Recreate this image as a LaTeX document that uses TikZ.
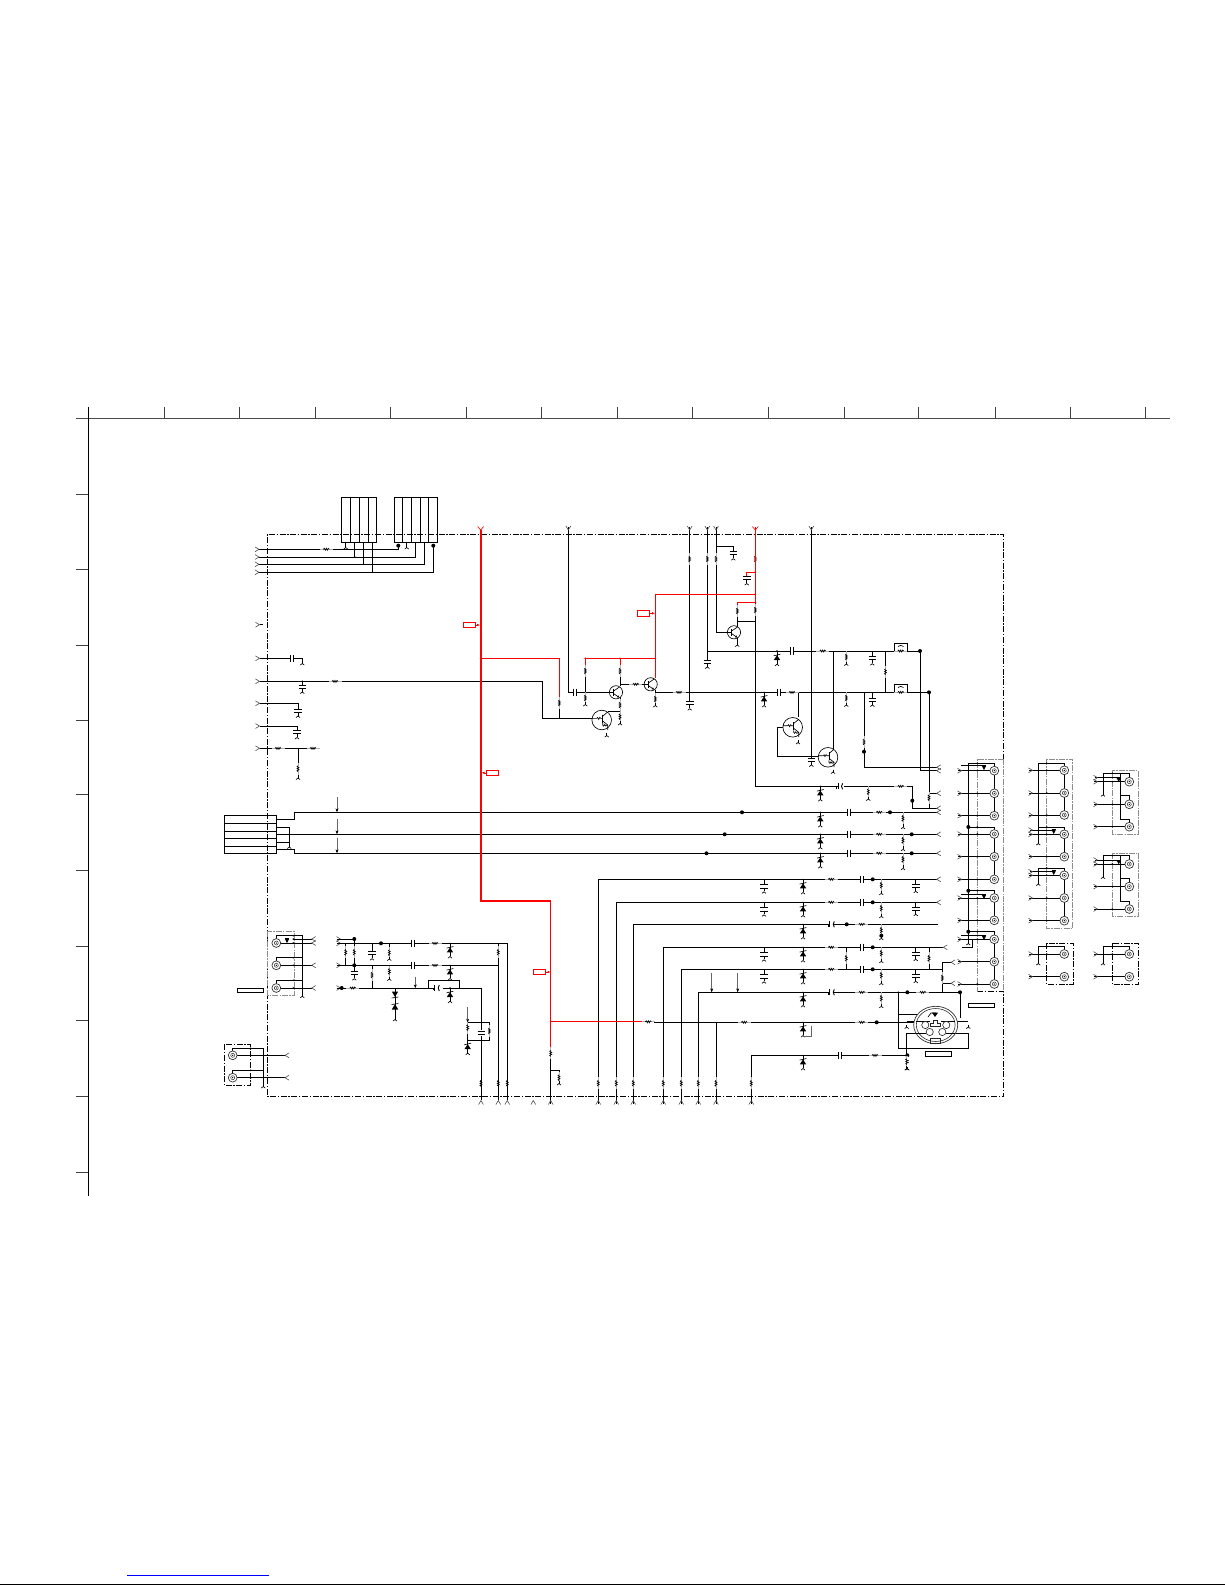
\documentclass[tikz,border=0pt]{standalone}
\usepackage{tikz}
\usetikzlibrary{arrows.meta}
\usetikzlibrary{calc}
\tikzset{
  wire/.style={black, line width=0.9pt},
  rednet/.style={red, line width=1pt},
  redbus/.style={red, line width=2.2pt},
  part/.style={black, line width=0.65pt},
  halo/.style={black!30, line width=1pt},
  framedash/.style={black, line width=0.7pt, dash pattern=on 6pt off 1.6pt on 1.4pt off 1.6pt},
  greydash/.style={black!45, line width=0.7pt, dash pattern=on 6pt off 1.2pt on 1.4pt off 1.2pt},
  lblbox/.style={draw=black, line width=0.8pt, fill=white, inner sep=0pt, minimum width=26pt, minimum height=4.2pt},
  redbox/.style={draw=red, line width=0.8pt, fill=white, inner sep=0pt, minimum width=12.4pt, minimum height=5.4pt},
  pics/hres/.style={code={
    \fill[white] (-5.5,-1.3) rectangle (5.5,1.3);
    \draw[halo] (-6.5,0) -- (6.5,0);
    \draw[part] (-3,0) -- (-2,-1) -- (-1,1) -- (0,-1) -- (1,1) -- (2,-1) -- (3,0);
  }},
  pics/vres/.style={code={
    \fill[white] (-1.3,-5) rectangle (1.3,5);
    \draw[halo] (0,-6) -- (0,6);
    \draw[part] (0,-3) -- (-1,-2) -- (1,-1) -- (-1,0) -- (1,1) -- (-1,2) -- (0,3);
  }},
  pics/hcap/.style={code={
    \fill[white] (-1.4,-1) rectangle (1.4,1);
    \draw[wire] (-1.5,-3.6) -- (-1.5,3.6) (1.5,-3.6) -- (1.5,3.6);
  }},
  pics/elcap/.style={code={
    \fill[white] (-2,-1) rectangle (2,1);
    \draw[wire] (-1.8,-3) -- (-1.8,3);
    \draw[wire] (2.6,-3) .. controls (1.2,-1.5) and (1.2,1.5) .. (2.6,3);
    \draw[part] (-3.6,1) -- (-3.6,2.2);
  }},
  pics/gnd/.style={code={
    \draw[part] (0,-2) -- (0,0.6);
    \draw[part] (-2,2) -- (0,0.6) -- (2,2);
  }},
  pics/vcap/.style={code={
    \draw[wire] (-3.8,0) -- (3.8,0) (-3.8,3.2) -- (3.8,3.2);
    \draw[wire] (0,3.2) -- (0,6.5);
    \draw[part] (-2,8.5) -- (0,7) -- (2,8.5);
  }},
  pics/zen/.style={code={
    \draw[wire] (0,0) -- (0,13);
    \fill (0,4.2) -- (-3.2,9) -- (3.2,9) -- cycle;
    \draw[part] (-3.4,4.8) -- (3.4,3.2);
    \draw[part] (-2,14.8) -- (0,13.2) -- (2,14.8);
    \fill (0,0) circle (0.8);
  }},
  pics/porta/.style={code={
    \draw[black!70, line width=0.6pt] (-4,-2.4) -- (0,0) -- (-4,2.4);
  }},
  pics/jack/.style={code={
    \draw[black!80, line width=0.7pt, fill=white] (0,0) circle (4.4);
    \draw[black!80, line width=0.5pt] (0,0) circle (2);
    \fill (0,0) circle (0.7);
  }},
  pics/npn/.style={code={
    \draw[part, fill=white] (0,0) circle (6.6);
    \draw[wire] (-2.2,-3.6) -- (-2.2,3.6);
    \draw[part] (-6.6,0) -- (-2.2,0);
    \draw[part] (-2.2,-1.4) -- (3.6,-5.4);
    \draw[part, -{Latex[length=2.4pt,width=2.4pt]}] (-2.2,1.4) -- (3.6,5.4);
  }},
  pics/fetq/.style={code={
    \draw[part, fill=white] (0,0) circle (9.8);
    \draw[part] (-9.8,-1.6) -- (-5,-1.6) -- (-4,-2.6) -- (-3,-0.6) -- (-2,-2.6) -- (-1,-1.6) -- (1,-1.6);
    \draw[wire] (1,-5.5) -- (1,3);
    \draw[part] (1,-3.8) -- (6,-8);
    \draw[part] (1,1) -- (6,5) -- (6,9.8);
    \draw[part] (1,3) -- (1,5) -- (2,6) -- (3,4.5) -- (4,6) -- (6,5);
  }},
  pics/tridown/.style={code={
    \fill (-2,-1.8) -- (2,-1.8) -- (0,2) -- cycle;
    \draw[part] (-2.2,-2.2) -- (2.2,-2.2);
  }},
}
\begin{document}
\begin{tikzpicture}[x=1pt,y=-1pt]
\useasboundingbox (0,0) rectangle (1225,1585);
% sheet rulers and page foot
\draw[black!70, line width=0.9pt] (76,418.3) -- (1169.5,418.3);
\draw[black, line width=0.9pt] (88.3,407) -- (88.3,1196);
\foreach \x in {164,239,315,390.5,466,541.7,617.5,692.5,768,844,918.8,995,1070.3,1145.3} {
    \draw[black!75, line width=0.8pt] (\x,407) -- (\x,418.3);
}
\foreach \y in {494,569.8,645.3,720.8,794.6,870,946,1020.8,1096.6,1172} {
    \draw[black!75, line width=0.8pt] (76,\y) -- (88.3,\y);
}
\draw[blue, line width=1pt] (127,1575.3) -- (269,1575.3);
\draw[black, line width=1.2pt] (0,1584.2) -- (1225,1584.2);
% board outline
\draw[framedash] (977.3,991.7) -- (1003.7,991.7) -- (1003.7,1096.3) -- (267.3,1096.3) -- (267.3,534.3) -- (1003.7,534.3) -- (1003.7,759);
\draw[greydash] (1003.7,759) -- (977.3,759) -- (977.3,991.7);
\draw[greydash] (1003.7,759) -- (1003.7,991.7);
% top connectors
\draw[wire] (341.3,497.3) rectangle (376.7,542.3);
\foreach \x in {350.3,359.3,368.3} {\draw[wire] (\x,497.3) -- (\x,542.3);}
\draw[wire] (394.3,497.3) rectangle (437.7,542.3);
\foreach \x in {402.3,411.3,420,428.3} {\draw[wire] (\x,497.3) -- (\x,542.3);}
\draw[wire] (259,549.3) -- (398.3,549.3) -- (398.3,545.7);
\draw[wire] (259,557) -- (415.3,557) -- (415.3,542.3);
\draw[wire] (259,564.3) -- (424.3,564.3) -- (424.3,542.3);
\draw[wire] (259,572.3) -- (433.3,572.3) -- (433.3,545.7);
\draw[wire] (354.7,542.3) -- (354.7,557) (363.7,542.3) -- (363.7,564.3) (372.3,542.3) -- (372.3,572.3);
\draw[part] (345.7,542.3) -- (345.7,545) (406.7,542.3) -- (406.7,545);
\pic at (345.7,547) {gnd};
\pic at (406.7,547) {gnd};
\fill (398.3,545.7) circle (2) (433.3,545.7) circle (2);
\pic at (326.3,549.3) {hres};
\foreach \y in {549.3,557,564.3,572.3} {\pic at (259,\y) {porta};}
\foreach \x/\y in {354.7/557,363.7/564.3,372.3/572.3} {\fill (\x,\y) circle (0.9);}
% left signal entries
\pic at (259.5,624.7) {porta};
\draw[wire] (259.5,624.7) -- (263,624.7);
\draw[wire] (259.5,658.3) -- (290.8,658.3) (293.8,658.3) -- (302.3,658.3) -- (302.3,661);
\pic at (292.3,658.3) {hcap};
\pic at (302.3,663) {gnd};
\draw[wire] (259.5,681.3) -- (542.3,681.3) -- (542.3,718.3) -- (592,718.3);
\pic at (335,681.3) {hres};
\draw[wire] (302.3,681.3) -- (302.3,685);
\pic at (302.3,685) {vcap};
\fill (302.3,681.3) circle (1);
\draw[wire] (259.5,703.3) -- (298,703.3) -- (298,709);
\pic at (298,709) {vcap};
\draw[wire] (259.5,726) -- (297,726) -- (297,730.5);
\pic at (297,730.5) {vcap};
\draw[wire] (259.5,748.3) -- (319.3,748.3);
\draw[wire] (298,748.3) -- (298,776);
\pic at (278,748.3) {hres};
\pic at (313,748.3) {hres};
\pic at (298,768.7) {vres};
\pic at (298,777.5) {gnd};
\foreach \y in {658.3,681.3,703.3,726,748.3} {\pic at (259.5,\y) {porta};}
% black nets of the upper stage
\draw[wire] (568.3,527) -- (568.3,692.3) -- (609.5,692.3);
\draw[wire] (620,684.3) -- (644.3,684.3);
\draw[wire] (620,676) -- (620,686);
\draw[wire] (620,697) -- (620,722);
\draw[wire] (620,711) -- (607.7,711);
\draw[wire] (585.3,675) -- (585.3,703);
\draw[wire] (559.3,703) -- (559.3,718.3);
\draw[wire] (655.3,690) -- (655.3,703);
\draw[wire] (655.3,692.3) -- (929,692.3);
\draw[wire] (689.7,527) -- (689.7,701.7);
\draw[wire] (707.3,527) -- (707.3,660);
\draw[wire] (707.3,651) -- (920,651);
\draw[wire] (716,527) -- (716,632.3) -- (727.5,632.3);
\draw[wire] (716,546) -- (733.3,546) -- (733.3,551.7);
\draw[wire] (737.3,613) -- (737.3,627);
\draw[wire] (737.3,621) -- (755.3,621);
\draw[wire] (737.3,638) -- (737.3,643);
\draw[wire] (755.3,602.7) -- (755.3,786.3) -- (838,786.3);
\draw[wire] (811.3,527) -- (811.3,758);
\draw[wire] (833.3,651) -- (833.3,750);
\draw[wire] (798.3,692.3) -- (798.3,717);
\draw[wire] (783,727.3) -- (777.7,727.3) -- (777.7,756.7) -- (818.3,756.7);
\draw[wire] (885.5,651) -- (885.5,692.3);
\draw[wire] (894.3,651) -- (894.3,643.3) -- (907.7,643.3) -- (907.7,651);
\draw[wire] (894.3,692.3) -- (894.3,684.3) -- (907.7,684.3) -- (907.7,692.3);
\draw[wire] (920,651) -- (920,770.7) -- (936.7,770.7);
\draw[wire] (864,692.3) -- (864,767.3) -- (936.7,767.3);
\draw[wire] (929,692.3) -- (929,808.3);
\draw[wire] (929,793.3) -- (936.7,793.3);
\draw[wire] (844,786.3) -- (912.3,786.3) -- (912.3,808.3) -- (936.7,808.3);
\foreach \x in {846.3} {
    \draw[wire] (\x,651) -- (\x,662);
    \draw[wire] (\x,692.3) -- (\x,703);
}
\draw[wire] (872.3,651) -- (872.3,656.7);
\draw[wire] (872.3,692.3) -- (872.3,698);
\draw[wire] (868.3,786.3) -- (868.3,797);
% front panel lines
\draw[wire] (276.3,819.3) -- (294.3,819.3) -- (294.3,812.3) -- (936.7,812.3);
\draw[wire] (276.3,834.3) -- (936.7,834.3);
\draw[wire] (276.3,849.3) -- (294.3,849.3) -- (294.3,853.3) -- (936.7,853.3);
\draw[wire] (276.3,827.3) -- (289.3,827.3) -- (289.3,845);
\draw[wire] (276.3,842.3) -- (289.3,842.3);
\pic at (289.3,846.5) {gnd};
\draw[wire] (224.3,815.3) rectangle (276.3,853.3);
\foreach \y in {823.3,831.3,838.3,846.7} {\draw[wire] (224.3,\y) -- (276.3,\y);}
\foreach \y/\ya in {812.3/797,834.3/819,853.3/837.7} {
    \draw[black!60, line width=0.5pt, -{Stealth[length=4pt,width=3pt,black]}] (337,\ya) -- (337,\y);
}
% colour rows coming up from the bottom
\foreach \x/\y/\xe in {598.3/879.3/936.7,616.3/902.3/936.7,633.3/924.3/937.7,663.3/947.3/943.3,681.3/969.3/942.3,698.3/992.3/960,751.3/1055.3/907.3} {
    \draw[wire] (\x,1104) -- (\x,\y) -- (\xe,\y);
}
\draw[wire] (648,1022.3) -- (915,1022.3);
\draw[wire] (716,1022.3) -- (716,1104);
\draw[wire] (846.3,947.3) -- (846.3,969.3);
\draw[wire] (929,947.3) -- (929,969.3);
\draw[wire] (942.3,962.3) -- (942.3,991.7);
\draw[wire] (942.3,962.3) -- (951,962.3);
\draw[wire] (942.3,983.3) -- (951,983.3);
\foreach \x/\y in {711.7/973.3,737.7/973.3} {
    \draw[black!60, line width=0.5pt, -{Stealth[length=4pt,width=3pt,black]}] (\x,\y) -- (\x,992.3);
}
% red supply
\draw[rednet] (480.7,658.3) -- (559.3,658.3) -- (559.3,703);
\draw[rednet] (585.3,675) -- (585.3,658.3) -- (655.3,658.3) -- (655.3,678);
\draw[rednet] (620,658.3) -- (620,676);
\draw[rednet] (655.3,658.3) -- (655.3,594.3) -- (755.3,594.3);
\draw[rednet] (755.3,534.3) -- (755.3,602.7) -- (737.3,602.7) -- (737.3,613);
\draw[rednet] (755.3,572) -- (746.7,572) -- (746.7,576);
\draw[red, line width=0.6pt] (755.3,527) -- (755.3,534.3);
\draw[redbus] (480.7,530) -- (480.7,901.3) -- (550.7,901.3);
\draw[rednet] (550.7,901.3) -- (550.7,1048);
\draw[rednet] (550.7,1021.3) -- (641.7,1021.3);
\draw[wire] (550.7,1048) -- (550.7,1104);
\draw[wire] (550.7,1070.3) -- (559,1070.3) -- (559,1081);
\pic at (550.7,1053.3) {vres};
\pic at (559,1077.7) {vres};
\pic at (559,1083) {gnd};
\pic at (648.3,1021.8) {hres};
\node[redbox] (tagA) at (469.5,625) {};
\node[redbox] (tagB) at (492.3,772.8) {};
\node[redbox] (tagC) at (643.5,613.3) {};
\node[redbox] (tagD) at (539.5,972) {};
\coordinate (busA) at (480,625);
\coordinate (busB) at (481.5,772.8);
\coordinate (busC) at (655,613.3);
\coordinate (busD) at (550.5,972);
\foreach \a/\b in {tagA/busA,tagB/busB,tagC/busC,tagD/busD} {
    \draw[red, line width=0.6pt, -{Latex[length=3pt,width=2.6pt]}] (\a) -- (\b);
}
\foreach \x/\y in {480.7/658.3,585.3/658.3,620/658.3,655.3/658.3,755.3/594.3,755.3/602.7,755.3/572,550.7/1021.3} {
    \fill[red] (\x,\y) circle (1);
}
% parts of the upper stage
\pic at (575,692.3) {hcap};
\pic[rotate=0] at (635.7,684.3) {hres};
\pic at (679,692.3) {hres};
\foreach \x/\y in {559.3/703,585.3/671,620/671,585.3/698,620/705,620/716.7,655.3/699,
  689.7/559,707.3/559,716/559,755.3/559,737.3/611,755.3/610,846.3/657,846.3/698,885.5/671.7,864/742,868.3/791.7,929/797.7} {
    \pic at (\x,\y) {vres};
}
\draw[rednet] (755.3,553) -- (755.3,565);
\draw[wire] (755.3,616) -- (755.3,621);
\foreach \x/\y in {585.3/704,620/723,655.3/705,737.3/644.5,846.3/663.5,846.3/704.5,868.3/798.5,606.7/735,798/742,833/771.5} {
    \pic at (\x,\y) {gnd};
}
\pic at (616,692.3) {npn};
\pic at (650.7,684.3) {npn};
\pic at (734,632.3) {npn};
\pic at (601.7,720) {fetq};
\pic at (792.7,727.3) {fetq};
\pic at (828,757.3) {fetq};
\foreach \x/\y in {733.3/551.7,746.7/576.5,689.7/701.7,707.3/660,872.3/656.7,872.3/698,811.3/758} {
    \pic at (\x,\y) {vcap};
}
\pic at (791.7,651) {hcap};
\pic at (822.7,651) {hres};
\pic at (779,692.3) {hcap};
\pic at (792,692.3) {hres};
\pic at (900.7,651) {hres};
\pic at (900.7,692.3) {hres};
\draw[part] (898,646.5) .. controls (899,645) and (902.4,645) .. (903.4,646.5);
\draw[part] (898,687.5) .. controls (899,686) and (902.4,686) .. (903.4,687.5);
\pic at (900.7,786.3) {hres};
\pic at (840,786.3) {elcap};
\pic at (777,651) {zen};
\pic at (764,692.3) {zen};
\pic at (820.3,786.3) {zen};
\fill (920,651) circle (2) (929,692.3) circle (2) (864,751.7) circle (2) (912.3,800.7) circle (2);
% parts of the front panel lines
\foreach \x/\y in {742/812.3,724.7/834.3,706.5/853.3,890/812.3,911.7/834.3,911.7/853.3} {
    \fill (\x,\y) circle (2);
}
\foreach \y in {812.3,834.3,853.3} {
    \pic at (820.3,\y) {zen};
    \pic at (849,\y) {hcap};
    \pic at (879.3,\y) {hres};
    \draw[wire] (903,\y) -- (903,{\y+13});
    \pic at (903,{\y+6}) {vres};
    \pic at (903,{\y+14.5}) {gnd};
}
% parts of the colour rows
\foreach \y in {879.3,902.3,924.3,947.3,969.3,992.3,1022.3,1055.3} {
    \pic at (803,\y) {zen};
}
\foreach \y in {879.3,902.3,947.3,969.3} {
    \draw[wire] (764,\y) -- (764,{\y+5.5});
    \pic at (764,{\y+5.5}) {vcap};
    \pic at (831.3,\y) {hres};
    \pic at (862.3,\y) {hcap};
    \fill (872.7,\y) circle (2);
    \draw[wire] (881.3,\y) -- (881.3,{\y+12});
    \pic at (881.3,{\y+6}) {vres};
    \pic at (881.3,{\y+13.5}) {gnd};
    \draw[wire] (915.7,\y) -- (915.7,{\y+5});
    \pic at (915.7,{\y+5}) {vcap};
}
\foreach \y in {924.3,992.3} {
    \pic at (831.7,\y) {elcap};
    \pic at (861.7,\y) {hres};
    \draw[wire] (881.3,\y) -- (881.3,{\y+12});
    \pic at (881.3,{\y+6}) {vres};
    \pic at (881.3,{\y+13.5}) {gnd};
}
\fill (846.7,924.3) circle (2) (881.3,935.7) circle (2);
\pic at (846.3,958.3) {vres};
\pic at (929,958.3) {vres};
\pic at (942.3,978) {vres};
\pic at (922.7,992.3) {hres};
\pic at (744.3,1022.3) {hres};
\pic at (861.7,1022.3) {hres};
\pic at (840,1055.3) {hcap};
\pic at (875,1055.3) {hres};
\fill (907.3,992.3) circle (2) (960,992.3) circle (2) (876.7,1022.3) circle (2) (907.3,1055.3) circle (2);
\draw[wire] (907.3,1055.3) -- (907.3,1066);
\pic at (907.3,1061.7) {vres};
\pic at (907.3,1068) {gnd};
\draw[black!60, line width=0.5pt] (811.7,1025.7) -- (811.7,1036.7) -- (803,1036.7);
\foreach \x in {598.3,616.3,633.3,663.3,681.3,698.3,716,751.3,481,498.3,507.3} {
    \pic at (\x,1083.3) {vres};
}
\foreach \x in {533.3,550.7,598.3,616.3,633.3,663.3,681.3,698.3,716,751.3,481,498.3,507.3} {
    \pic[rotate=90] at (\x,1100.5) {porta};
}
\foreach \x in {568.3,689.7,707.3,716,811.3} {
    \pic[rotate=-90] at (\x,530) {porta};
}
\draw[red, line width=0.6pt] (477.7,526.5) -- (480.7,530) -- (483.7,526.5) (752.3,526.5) -- (755.3,530) -- (758.3,526.5);
\foreach \x/\y in {936.7/767.3,936.7/770.7,936.7/793.3,936.7/808.3,936.7/812.3,936.7/834.3,936.7/853.3,936.7/879.3,936.7/902.3,943.3/947.3,951/962.3,951/983.3} {
    \pic[rotate=180] at (\x,\y) {porta};
}
% mini din socket
\draw[wire] (898.3,992.3) -- (898.3,1048.3) -- (968.3,1048.3) -- (968.3,1033.3) -- (945,1033.3);
\draw[wire] (898.3,1014.3) -- (933,1014.3);
\draw[wire] (960,992.3) -- (960,1018);
\draw[wire] (906.7,1021.7) -- (925,1021.7) (948,1021.7) -- (968.3,1021.7);
\draw[wire] (906.7,1033.3) -- (926,1033.3) (906.7,1033.3) -- (906.7,1066);
\pic at (906.7,1026.5) {gnd};
\pic at (968.3,1026.5) {gnd};
\draw[black!80, line width=0.7pt, fill=white] (935.7,1025) ellipse (22 and 18.7);
\draw[black!80, line width=0.6pt] (935.7,1025) ellipse (19.4 and 16.5);
\draw[part] (916,1021.7) -- (930,1021.7) (941,1021.7) -- (955,1021.7);
\draw[part] (916,1033.3) -- (926,1033.3) (946,1033.3) -- (955,1033.3);
\foreach \x/\y in {925.3/1025,946.3/1025,929.7/1032,942.3/1032} {
    \draw[black!85, line width=0.6pt, fill=white] (\x,\y) circle (3.6);
}
\draw[black!85, line width=0.6pt] (930.7,1023.3) -- (933.7,1023.3) -- (933.7,1020.5) -- (937.7,1020.5) -- (937.7,1023.3) -- (940.7,1023.3) -- (940.7,1026.5) -- (930.7,1026.5) -- cycle;
\draw[black!85, line width=0.6pt] (930.7,1038.3) rectangle (940.7,1043.5);
\fill (932,1012.7) -- (938,1012.7) -- (935,1017) -- cycle;
\draw[part] (928,1017) -- (931,1013) -- (936,1013);
\fill (898.3,992.3) circle (0.9);
\pic at (906.7,1061.7) {vres};
\pic at (906.7,1068) {gnd};
% label bars
\node[lblbox] (barA) at (250.3,990.2) {};
\node[lblbox] (barB) at (981.3,1005.3) {};
\node[lblbox] (barC) at (938.5,1053.8) {};
% left audio jacks and their stage
\draw[greydash] (267.7,931.3) rectangle (294,995.3);
\draw[wire] (276.3,943) -- (311.7,943) (293,939) -- (311.7,939);
\draw[wire] (276.3,965.3) -- (311.7,965.3) (276.3,988) -- (311.7,988);
\draw[wire] (276.3,943) -- (276.3,935.7) -- (302.3,935.7) -- (302.3,994);
\draw[wire] (276.3,965.3) -- (276.3,957.7) -- (302.3,957.7);
\draw[wire] (276.3,988) -- (276.3,980.3) -- (302.3,980.3);
\foreach \y in {935.7,939,943,957.7,965.3,980.3,988} {\fill (293.3,\y) circle (0.9);}
\pic at (302.3,995.7) {gnd};
\pic at (287,941) {tridown};
\foreach \y in {939,943,965.3,988} {\pic[rotate=180] at (311.7,\y) {porta};}
\foreach \y in {943,965.3,988} {\pic at (276.3,\y) {jack};}
\draw[framedash, line width=0.6pt] (224.3,1044.3) rectangle (250.7,1085.3);
\draw[wire] (232.7,1055.3) -- (285,1055.3) (232.7,1077.7) -- (285,1077.7);
\draw[wire] (232.7,1055.3) -- (232.7,1048.3) -- (263.3,1048.3) -- (263.3,1084);
\draw[wire] (232.7,1077.7) -- (232.7,1070.3) -- (263.3,1070.3);
\pic at (263.3,1086) {gnd};
\foreach \y in {1048.3,1055.3,1070.3,1077.7} {\fill (250.7,\y) circle (0.9);}
\foreach \y in {1055.3,1077.7} {\pic at (232.7,\y) {jack}; \pic[rotate=180] at (285,\y) {porta};}
% composite stage
\foreach \y in {939,943.3,965.3,988} {\pic at (340.5,\y) {porta};}
\draw[wire] (336.7,939) -- (354.3,939) -- (354.3,971.7);
\draw[wire] (336.7,943.3) -- (507.3,943.3) -- (507.3,1100);
\draw[wire] (345.7,943.3) -- (345.7,965.3);
\draw[wire] (498.3,943.3) -- (498.3,1100);
\draw[wire] (336.7,965.3) -- (498.3,965.3);
\draw[wire] (336.7,988) -- (428.3,988) (428.3,988) -- (428.3,980.3) -- (459.3,980.3) -- (459.3,988);
\draw[wire] (443,988) -- (481,988) -- (481,1100);
\draw[wire] (428.3,988) -- (434,988);
\draw[wire] (372,943.3) -- (372,951.7);
\draw[wire] (372,965.3) -- (372,988);
\draw[wire] (389.3,943.3) -- (389.3,957) (389.3,965.3) -- (389.3,977);
\pic at (372,951.7) {vcap};
\pic at (354.3,971.7) {vcap};
\pic at (345.7,952.3) {vres};
\pic at (354.3,952.3) {vres};
\pic at (372,975) {vres};
\pic at (389.3,952.7) {vres};
\pic at (389.3,971.5) {vres};
\pic at (389.3,958.5) {gnd};
\pic at (389.3,978.5) {gnd};
\pic at (498.3,952.3) {vres};
\foreach \y in {943.3,965.3} {
    \pic at (413.3,\y) {hcap};
    \pic at (435,\y) {hres};
    \pic at (450,\y) {zen};
}
\pic at (352.7,988) {hres};
\pic at (436.7,988) {elcap};
\pic at (450,988) {zen};
\fill (354.3,939) circle (2) (354.3,965.3) circle (2) (381,943.3) circle (2) (341.7,988) circle (2);
\draw[wire] (395,988) -- (395,1018);
\fill (391.8,991.5) -- (398.2,991.5) -- (395,997) -- cycle;
\draw[part] (391.6,998) -- (398.4,997);
\fill (395,1004) -- (391.8,1009.5) -- (398.2,1009.5) -- cycle;
\draw[part] (391.6,1004.5) -- (398.4,1003.5);
\pic at (395,1019) {gnd};
\draw[black!60, line width=0.5pt, -{Stealth[length=3.5pt,width=3pt,black]}] (415.3,976.7) -- (415.3,988);
\draw[black!60, line width=0.5pt, -{Stealth[length=3.5pt,width=3pt,black]}] (467.7,1007.3) -- (467.7,1022.3);
\draw[wire] (467.7,1022.3) -- (489.3,1022.3) -- (489.3,1040) -- (467.7,1040) -- (467.7,1022.3);
\pic at (467.7,1027.7) {vres};
\pic at (489.3,1031) {vres};
\pic at (467.7,1040) {zen};
\fill[white] (479,1029.5) rectangle (483,1035.5);
\draw[wire] (477.5,1031) -- (484.5,1031) (477.5,1034) -- (484.5,1034);
% jack columns
\foreach \y in {770.7,793.3,815.7,834,856.7,879.3,898,920.3,939.3,961.7,984} {
    \draw[wire] (958,\y) -- (994.3,\y);
    \pic at (961.5,\y) {porta};
    \fill (977.3,\y) circle (0.9);
}
\draw[wire] (968.3,763.3) -- (968.3,941);
\pic at (968.3,943) {gnd};
\draw[wire] (961,765.7) -- (985,765.7) (961,894.3) -- (985,894.3) (961,935.7) -- (985,935.7);
\foreach \ya/\yb in {763.3/815.7,827/879.3,890.7/920.3,931.7/984} {
    \draw[wire] (968.3,\ya) -- (994.3,\ya) -- (994.3,\yb);
    \fill (977.3,\ya) circle (0.9);
}
\fill (968.3,827) circle (2) (968.3,890.7) circle (2) (968.3,931.7) circle (2);
\draw[wire] (961.5,947) -- (972,947) -- (972,938.5);
\foreach \y in {768,897,938} {\pic at (984,\y) {tridown};}
\foreach \y in {770.7,793.3,815.7,834,856.7,879.3,898,920.3,939.3,961.7,984} {\pic at (994.3,\y) {jack};}
\draw[greydash] (1046.7,759) rectangle (1072.7,928.3);
\foreach \y in {770.3,793,815,834.3,856.7,875.3,898,920.7} {
    \draw[wire] (1029,\y) -- (1064.3,\y);
    \pic at (1032.5,\y) {porta};
    \fill (1046.7,\y) circle (0.9);
}
\draw[wire] (1038.3,763.3) -- (1038.3,841);
\pic at (1038.3,843) {gnd};
\draw[wire] (1038.3,868) -- (1038.3,881.5);
\pic at (1038.3,883.5) {gnd};
\draw[wire] (1030,830) -- (1055,830) (1030,871.7) -- (1055,871.7);
\pic at (1032.5,830) {porta};
\pic at (1032.5,871.7) {porta};
\foreach \ya/\yb in {763.3/815,827/856.7,868/920.7} {
    \draw[wire] (1038.3,\ya) -- (1064.3,\ya) -- (1064.3,\yb);
    \fill (1046.7,\ya) circle (0.9);
}
\foreach \y in {832,873} {\pic at (1053.7,\y) {tridown};}
\foreach \y in {770.3,793,815,834.3,856.7,875.3,898,920.7} {\pic at (1064.3,\y) {jack};}
\foreach \s in {0,82.3} {
    \begin{scope}[yshift=-\s pt]
        \draw[greydash] (1112.3,770.7) rectangle (1138.3,834.3);
        \foreach \y in {781.7,804.3,826.7} {
            \draw[wire] (1094,\y) -- (1129.3,\y);
            \pic at (1097.5,\y) {porta};
            \fill (1112.3,\y) circle (0.9);
        }
        \draw[wire] (1095,777.7) -- (1118,777.7);
        \pic at (1097.5,777.7) {porta};
        \draw[wire] (1103,773.3) -- (1103,792.5);
        \pic at (1103,794.3) {gnd};
        \draw[wire] (1103,773.3) -- (1129.3,773.3) -- (1129.3,781.7);
        \draw[wire] (1120.7,773.3) -- (1120.7,819) -- (1129.3,819) -- (1129.3,826.7);
        \draw[wire] (1120.7,795.7) -- (1129.3,795.7) -- (1129.3,804.3);
        \fill (1112.3,773.3) circle (0.9);
        \pic at (1118.7,780) {tridown};
        \foreach \y in {781.7,804.3,826.7} {\pic at (1129.3,\y) {jack};}
    \end{scope}
}
\foreach \xb/\xp/\xj/\xl/\xr in {1038.3/1029/1064.3/1046.7/1073.3,1103/1094/1129.3/1112.3/1138.3} {
    \draw[framedash, line width=0.6pt] (\xl,943.3) rectangle (\xr,984.3);
    \draw[wire] (\xp,954) -- (\xj,954) (\xp,976.7) -- (\xj,976.7);
    \draw[wire] (\xb,962) -- (\xb,946.7) -- (\xj,946.7) -- (\xj,954);
    \pic at (\xb,963) {gnd};
    \pic at ({\xp+3.5},954) {porta};
    \pic at ({\xp+3.5},976.7) {porta};
    \pic at (\xj,954) {jack};
    \pic at (\xj,976.7) {jack};
    \foreach \y in {946.7,954,976.7} {\fill (\xl,\y) circle (0.9);}
}
\end{tikzpicture}
\end{document}
